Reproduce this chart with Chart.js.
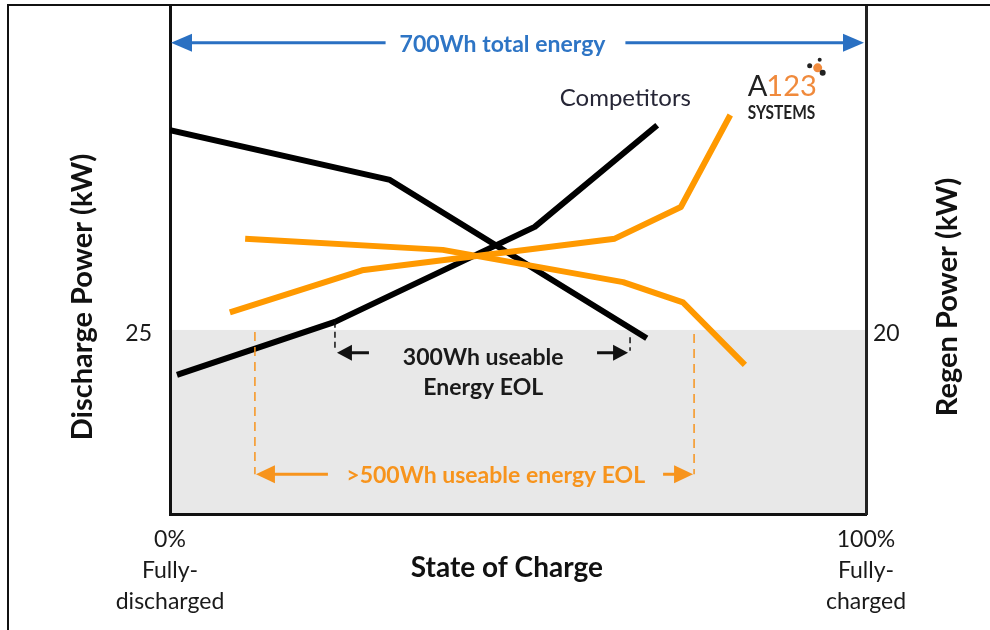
<!DOCTYPE html>
<html>
<head>
<meta charset="utf-8">
<script src="https://cdn.jsdelivr.net/npm/chart.js@4/dist/chart.umd.min.js"></script>
<style>
  html, body { margin: 0; padding: 0; background: #fff; }
  #wrap { position: relative; width: 990px; height: 630px; overflow: hidden; }
  canvas { position: absolute; left: 0; top: 0; }
  #frame { position: absolute; left: 7px; top: 4px; width: 990px; height: 640px;
           border-left: 2px solid #111; border-top: 2px solid #111; }
</style>
</head>
<body>
<div id="wrap">
  <canvas id="socChart" width="990" height="630"></canvas>
  <div id="frame"></div>
</div>
<script>
// state of charge (%) and power
const compDischargeSoc = [1.0, 23.7, 52.4, 70.0];
const compDischargeKw  = [18.9, 26.1, 39.0, 52.8];
const compRegenSoc = [0, 31.6, 68.5];
const compRegenKw  = [41.7, 36.3, 19.1];
const a123DischargeSoc = [8.6, 27.6, 63.9, 73.4, 80.5];
const a123DischargeKw  = [27.4, 33.1, 37.4, 41.7, 54.2];
const a123RegenSoc = [10.8, 39.2, 65.1, 73.7, 82.6];
const a123RegenKw  = [29.9, 28.7, 25.2, 23.0, 16.2];

const xTicks = [0, 100];
const xTickLabels = [['0%', 'Fully-', 'discharged'], ['100%', 'Fully-', 'charged']];
const leftTicks = [25];
const rightTicks = [20];
const eolLimit = 25; // kW, shaded below

// annotation anchors (SOC %, discharge kW scale)
const totalArrow = { from: 0, to: 100, kw: 64.0, text: '700Wh total energy' };
const compArrow = { from: 23.7, to: 66.1, kw: 21.9, lines: ['300Wh useable', 'Energy EOL'] };
const a123Arrow = { from: 12.2, to: 75.3, kw: 5.4, text: '>500Wh useable energy EOL' };

const ORANGE = '#ff9900';
const FONT = 'Lato, "Open Sans", sans-serif';

function pts(xs, ys) {
    return xs.map((x, i) => ({ x: x, y: ys[i] }));
}

function arrowHead(ctx, x, y, dir, len, half) {
    ctx.beginPath();
    ctx.moveTo(x, y);
    ctx.lineTo(x - dir * len, y - half);
    ctx.lineTo(x - dir * len, y + half);
    ctx.closePath();
    ctx.fill();
}

function noPad(s) {
    s.paddingTop = 0;
    s.paddingBottom = 0;
}

const bandPlugin = {
    id: 'band',
    beforeDraw(chart) {
        const { ctx, chartArea } = chart;
        const y = chart.scales.yL.getPixelForValue(eolLimit);
        ctx.save();
        ctx.fillStyle = '#e8e8e8';
        ctx.fillRect(chartArea.left, y, chartArea.right - chartArea.left, chartArea.bottom - y);
        ctx.restore();
    }
};

const notesPlugin = {
    id: 'notes',
    afterDraw(chart) {
        const { ctx, chartArea } = chart;
        const xs = chart.scales.x;
        const yl = chart.scales.yL;
        const px = v => xs.getPixelForValue(v);
        const py = v => yl.getPixelForValue(v);
        ctx.save();

        // axis titles
        ctx.fillStyle = '#111';
        ctx.font = 'bold 29px ' + FONT;
        ctx.textAlign = 'center';
        ctx.textBaseline = 'middle';
        const midY = chartArea.top + 291;
        [chartArea.left - 87, chartArea.right + 82].forEach((x, i) => {
            ctx.save();
            ctx.translate(x, midY);
            ctx.rotate(-Math.PI / 2);
            ctx.fillText(i === 0 ? 'Discharge Power (kW)' : 'Regen Power (kW)', 0, 0);
            ctx.restore();
        });
        ctx.font = 'bold 28px ' + FONT;
        ctx.fillText('State of Charge', px(48.4), chartArea.bottom + 54);

        // 700Wh total energy
        let y = py(totalArrow.kw);
        let x0 = px(totalArrow.from) + 1, x1 = px(totalArrow.to) - 2;
        ctx.font = 'bold 23px ' + FONT;
        let tw = ctx.measureText(totalArrow.text).width;
        let cx = (x0 + x1) / 2 - 15;
        ctx.strokeStyle = '#2a70c2';
        ctx.fillStyle = '#2a70c2';
        ctx.lineWidth = 3;
        ctx.beginPath();
        ctx.moveTo(x0 + 10, y); ctx.lineTo(cx - tw / 2 - 14, y);
        ctx.moveTo(cx + tw / 2 + 20, y); ctx.lineTo(x1 - 10, y);
        ctx.stroke();
        arrowHead(ctx, x0, y, -1, 21, 9);
        arrowHead(ctx, x1, y, 1, 21, 9);
        ctx.fillStyle = '#2e75c5';
        ctx.fillText(totalArrow.text, cx, y + 2);

        // competitors label
        ctx.fillStyle = '#262636';
        ctx.font = '24px ' + FONT;
        ctx.textAlign = 'left';
        ctx.fillText('Competitors', px(56.0), py(56.4));

        // A123 logo
        const lx = px(83.0), ly = py(56.8);
        ctx.save();
        ctx.translate(lx, ly);
        ctx.textBaseline = 'alphabetic';
        ctx.font = '29px ' + FONT;
        ctx.fillStyle = '#222';
        ctx.fillText('A', 0, 0);
        const aw = ctx.measureText('A').width;
        ctx.fillStyle = '#f08a3c';
        ctx.fillText('123', aw - 1, 0);
        ctx.scale(0.86, 1);
        ctx.font = 'bold 18px ' + FONT;
        ctx.fillStyle = '#222';
        ctx.fillText('SYSTEMS', 0, 23);
        ctx.restore();
        ctx.fillStyle = '#f08a3c';
        ctx.beginPath(); ctx.arc(lx + 70, ly - 28, 4.5, 0, Math.PI * 2); ctx.fill();
        ctx.fillStyle = '#222';
        [[62, -30, 2.5], [75, -23, 3], [72, -36, 2]].forEach(d => {
            ctx.beginPath(); ctx.arc(lx + d[0], ly + d[1], d[2], 0, Math.PI * 2); ctx.fill();
        });

        // 300Wh useable energy EOL (competitors)
        ctx.textAlign = 'center';
        y = py(compArrow.kw);
        x0 = px(compArrow.from); x1 = px(compArrow.to);
        ctx.strokeStyle = '#111';
        ctx.fillStyle = '#111';
        ctx.lineWidth = 1.5;
        ctx.setLineDash([6, 4]);
        ctx.beginPath();
        ctx.moveTo(x0, py(26.1)); ctx.lineTo(x0, y - 2);
        ctx.moveTo(x1, py(24.0)); ctx.lineTo(x1, y - 2);
        ctx.stroke();
        ctx.setLineDash([]);
        ctx.lineWidth = 3;
        ctx.beginPath();
        ctx.moveTo(x0 + 10, y); ctx.lineTo(x0 + 34, y);
        ctx.moveTo(x1 - 10, y); ctx.lineTo(x1 - 33, y);
        ctx.stroke();
        arrowHead(ctx, x0 + 2, y, -1, 15, 8);
        arrowHead(ctx, x1 - 2, y, 1, 15, 8);
        ctx.font = 'bold 23px ' + FONT;
        ctx.fillStyle = '#1a1a1a';
        cx = px(45.0);
        ctx.fillText(compArrow.lines[0], cx, y + 5);
        ctx.fillText(compArrow.lines[1], cx, y + 35);

        // >500Wh useable energy EOL (A123)
        y = py(a123Arrow.kw);
        x0 = px(a123Arrow.from); x1 = px(a123Arrow.to);
        ctx.strokeStyle = '#f7941d';
        ctx.fillStyle = '#f7941d';
        ctx.lineWidth = 1.5;
        ctx.setLineDash([9, 6]);
        ctx.beginPath();
        ctx.moveTo(x0, py(eolLimit) + 2); ctx.lineTo(x0, y);
        ctx.moveTo(x1, py(eolLimit) + 4); ctx.lineTo(x1, y);
        ctx.stroke();
        ctx.setLineDash([]);
        ctx.lineWidth = 3;
        ctx.beginPath();
        ctx.moveTo(x0 + 12, y); ctx.lineTo(x0 + 73, y);
        ctx.moveTo(x1 - 12, y); ctx.lineTo(x1 - 31, y);
        ctx.stroke();
        arrowHead(ctx, x0 + 1, y, -1, 19, 9);
        arrowHead(ctx, x1 - 1, y, 1, 19, 9);
        ctx.font = 'bold 23px ' + FONT;
        ctx.fillText(a123Arrow.text, px(46.8), y + 1);

        ctx.restore();
    }
};

const lineStyle = {
    showLine: true,
    pointRadius: 0,
    borderWidth: 6,
    tension: 0,
    borderCapStyle: 'butt',
    borderJoinStyle: 'round',
    fill: false
};

const socChart = new Chart(document.getElementById('socChart').getContext('2d'), {
    type: 'line',
    data: {
        datasets: [
            Object.assign({ label: 'A123 discharge', data: pts(a123DischargeSoc, a123DischargeKw), borderColor: ORANGE, yAxisID: 'yL', order: 1 }, lineStyle),
            Object.assign({ label: 'A123 regen', data: pts(a123RegenSoc, a123RegenKw), borderColor: ORANGE, yAxisID: 'yR', order: 1 }, lineStyle),
            Object.assign({ label: 'Competitor discharge', data: pts(compDischargeSoc, compDischargeKw), borderColor: '#000', yAxisID: 'yL', order: 2 }, lineStyle),
            Object.assign({ label: 'Competitor regen', data: pts(compRegenSoc, compRegenKw), borderColor: '#000', yAxisID: 'yR', order: 2 }, lineStyle)
        ]
    },
    options: {
        responsive: false,
        animation: false,
        devicePixelRatio: 1,
        layout: { padding: { top: 6, left: 0, right: 0, bottom: 0 } },
        plugins: { legend: { display: false }, tooltip: { enabled: false } },
        scales: {
            x: {
                type: 'linear',
                min: 0,
                max: 100,
                grid: { drawOnChartArea: false, drawTicks: false },
                border: { display: true, color: '#111', width: 3 },
                afterBuildTicks: s => { s.ticks = xTicks.map(v => ({ value: v })); },
                afterFit: s => { s.height = 116; },
                ticks: {
                    autoSkip: false,
                    maxRotation: 0,
                    padding: 10,
                    color: '#1a1a1a',
                    font: { family: FONT, size: 23, lineHeight: 1.35 },
                    callback: (v) => xTickLabels[xTicks.indexOf(v)]
                }
            },
            yL: {
                type: 'linear',
                position: 'left',
                min: 0,
                max: 69,
                grid: { drawOnChartArea: false, drawTicks: false },
                border: { display: true, color: '#111', width: 3 },
                afterBuildTicks: s => { s.ticks = leftTicks.map(v => ({ value: v })); },
                afterFit: s => { s.width = 170; noPad(s); },
                ticks: { padding: 18, labelOffset: 4, color: '#1a1a1a', font: { family: FONT, size: 23 } }
            },
            yR: {
                type: 'linear',
                position: 'right',
                min: 0,
                max: 55.2,
                grid: { drawOnChartArea: false, drawTicks: false },
                border: { display: true, color: '#222', width: 3 },
                afterBuildTicks: s => { s.ticks = rightTicks.map(v => ({ value: v })); },
                afterFit: s => { s.width = 124; noPad(s); },
                ticks: { padding: 7, labelOffset: 4, color: '#1a1a1a', font: { family: FONT, size: 23 } }
            }
        }
    },
    plugins: [bandPlugin, notesPlugin]
});
</script>
</body>
</html>
